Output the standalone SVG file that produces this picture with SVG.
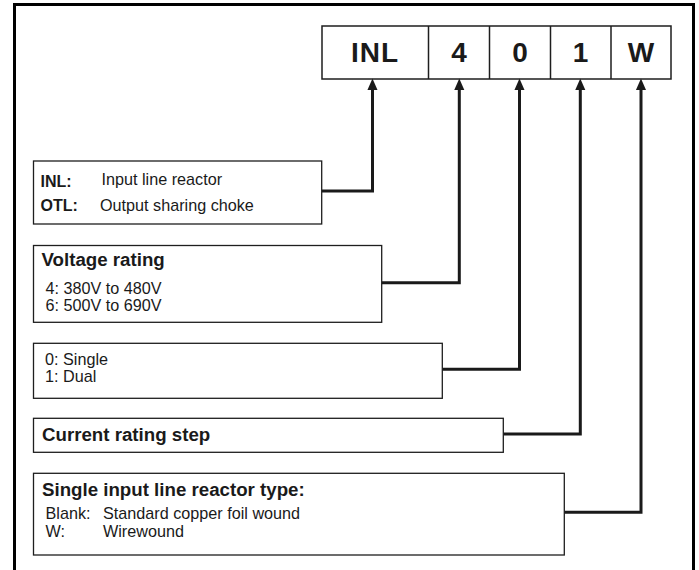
<svg xmlns="http://www.w3.org/2000/svg" width="699" height="570" viewBox="0 0 699 570">
<defs>
<style>
.frame{fill:none;stroke:#000;stroke-width:3}
.box{fill:#fff;stroke:#1e1e1e;stroke-width:1.3}
.cell{fill:#fff;stroke:#1e1e1e;stroke-width:1.5}
.conn{fill:none;stroke:#1a1a1a;stroke-width:3;stroke-linejoin:miter}
.code{font-family:"Liberation Sans",Arial,sans-serif;font-weight:bold;font-size:28px;fill:#1a1a1a;text-anchor:middle}
.hd{font-family:"Liberation Sans",Arial,sans-serif;font-weight:bold;font-size:18.7px;fill:#1a1a1a}
.lb{font-family:"Liberation Sans",Arial,sans-serif;font-weight:bold;font-size:16px;fill:#1a1a1a}
.tx{font-family:"Liberation Sans",Arial,sans-serif;font-size:16.2px;fill:#1a1a1a}
</style>
<marker id="ah" markerUnits="userSpaceOnUse" markerWidth="12" markerHeight="12" viewBox="0 -5 10 10" refX="0" refY="0" orient="auto">
<path d="M0,-4.2 L9.5,0 L0,4.2 Z" fill="#1a1a1a"/>
</marker>
</defs>
<rect width="699" height="570" fill="#fff"/>
<path class="frame" d="M14.5,575 V4.5 H693.5 V575"/>

<g id="code">
<rect class="cell" x="322" y="26" width="349" height="53"/>
<line class="cell" x1="428.5" y1="26" x2="428.5" y2="79"/>
<line class="cell" x1="489.5" y1="26" x2="489.5" y2="79"/>
<line class="cell" x1="550.5" y1="26" x2="550.5" y2="79"/>
<line class="cell" x1="611" y1="26" x2="611" y2="79"/>
<text class="code" x="375" y="62" letter-spacing="1">INL</text>
<text class="code" x="459" y="62">4</text>
<text class="code" x="520" y="62">0</text>
<text class="code" x="580.5" y="62">1</text>
<text class="code" x="641" y="62">W</text>
</g>

<g id="connectors">
<path class="conn" d="M321.7,191 H372.5 V90" marker-end="url(#ah)"/>
<path class="conn" d="M381.7,282.7 H459.3 V90" marker-end="url(#ah)"/>
<path class="conn" d="M442.3,369.3 H519.5 V90" marker-end="url(#ah)"/>
<path class="conn" d="M503.3,434 H580.3 V90" marker-end="url(#ah)"/>
<path class="conn" d="M564.3,512.3 H641 V90" marker-end="url(#ah)"/>
</g>

<g id="type">
<rect class="box" x="33.5" y="161" width="288.2" height="63"/>
<text class="lb" x="40.5" y="187">INL:</text>
<text class="tx" x="101.5" y="185">Input line reactor</text>
<text class="lb" x="40.5" y="211">OTL:</text>
<text class="tx" x="100" y="211">Output sharing choke</text>
</g>

<g id="voltage">
<rect class="box" x="33.5" y="245.5" width="348.2" height="76.8"/>
<text class="hd" x="41.5" y="266">Voltage rating</text>
<text class="tx" x="45.5" y="294">4: 380V to 480V</text>
<text class="tx" x="45.5" y="311">6: 500V to 690V</text>
</g>

<g id="phase">
<rect class="box" x="33.5" y="343.3" width="408.8" height="55"/>
<text class="tx" x="45" y="365">0: Single</text>
<text class="tx" x="45" y="382">1: Dual</text>
</g>

<g id="current">
<rect class="box" x="33.5" y="418.3" width="469.8" height="34"/>
<text class="hd" x="42" y="441">Current rating step</text>
</g>

<g id="reactor">
<rect class="box" x="33.5" y="473.3" width="530.8" height="81.7"/>
<text class="hd" x="42" y="496">Single input line reactor type:</text>
<text class="tx" x="45.5" y="519">Blank:</text>
<text class="tx" x="103" y="519">Standard copper foil wound</text>
<text class="tx" x="45.5" y="537">W:</text>
<text class="tx" x="103" y="537">Wirewound</text>
</g>
</svg>
